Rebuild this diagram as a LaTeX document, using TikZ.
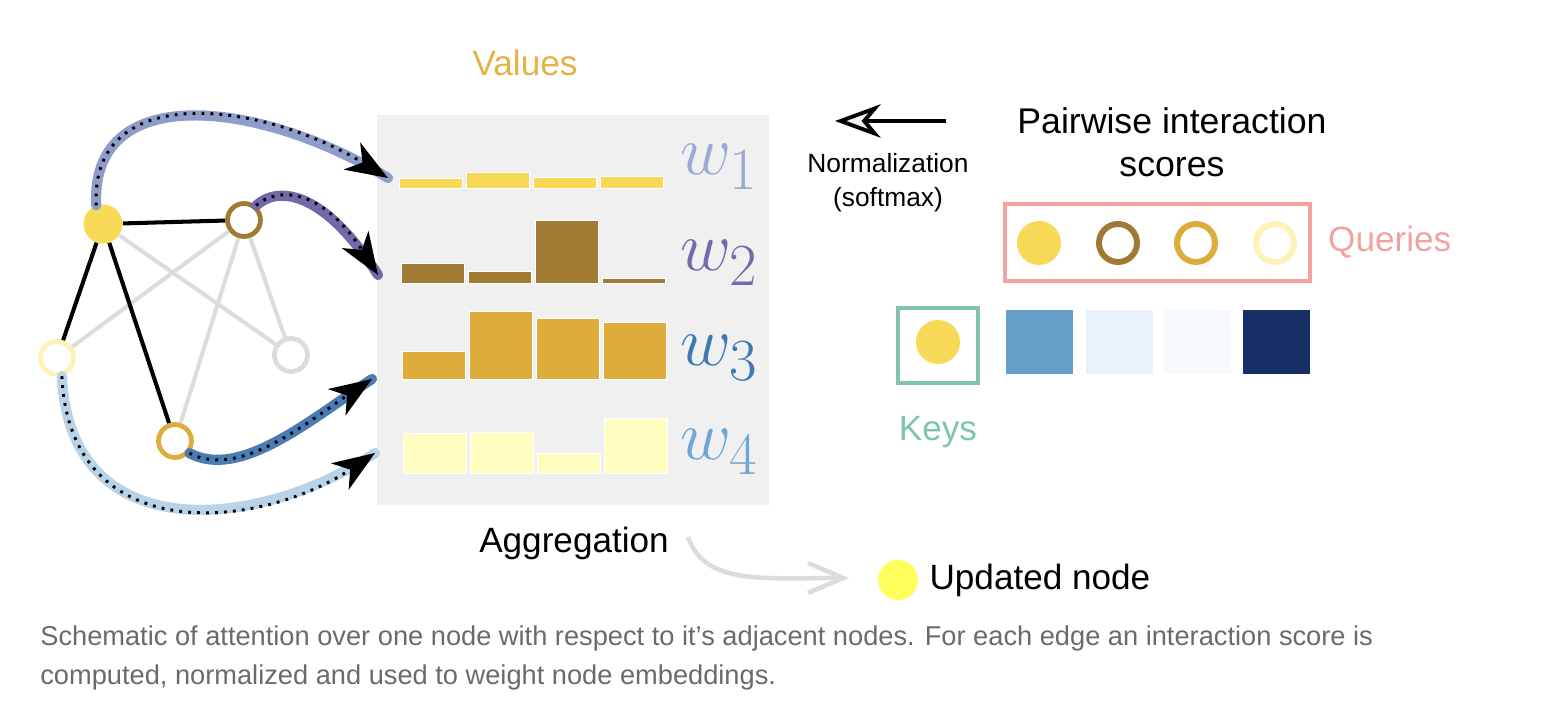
\documentclass[tikz,border=0pt]{standalone}
\usepackage{fix-cm}
\usepackage[no-math]{fontspec}
\setmainfont{Liberation Sans}
\usetikzlibrary{positioning,calc,arrows.meta}
\DeclareMathSizes{40}{40}{34}{28}

\definecolor{nodeyellow}{HTML}{F8D957}
\definecolor{nodebrown}{HTML}{A07A32}
\definecolor{nodegold}{HTML}{DDAC3B}
\definecolor{nodepale}{HTML}{FEF2B6}
\definecolor{nodegrey}{HTML}{DCDCDC}
\definecolor{barpale}{HTML}{FFFDC0}
\definecolor{boxgrey}{HTML}{F0F0F0}
\definecolor{flowA}{HTML}{8E9DC9}
\definecolor{flowB}{HTML}{7468AA}
\definecolor{flowC}{HTML}{4A7CB4}
\definecolor{flowD}{HTML}{B8D3E7}
\definecolor{labelA}{HTML}{9AAAD0}
\definecolor{labelB}{HTML}{7767AC}
\definecolor{labelC}{HTML}{3F78B5}
\definecolor{labelD}{HTML}{6FA6D4}
\definecolor{valuegold}{HTML}{E2B244}
\definecolor{querypink}{HTML}{F2A3A0}
\definecolor{keygreen}{HTML}{80C4A9}
\definecolor{scoreA}{HTML}{679FCB}
\definecolor{scoreB}{HTML}{E9F1FA}
\definecolor{scoreC}{HTML}{F6F9FE}
\definecolor{scoreD}{HTML}{162F66}
\definecolor{updyellow}{HTML}{FFFF5C}
\definecolor{captiongrey}{HTML}{6A6A6A}

\begin{document}
\begin{tikzpicture}[x=0.02cm, y=-0.02cm,
  every node/.style={font=\fontsize{20}{24}\selectfont},
  dot/.style={circle, fill=#1, inner sep=0pt, minimum size=0.78cm},
  ring/.style={circle, draw=#1, fill=white, inner sep=0pt, line width=2.7pt, minimum size=0.66cm},
  qdot/.style={dot=#1, minimum size=0.88cm},
  qring/.style={ring=#1, line width=3.4pt, minimum size=0.76cm},
  edge/.style={line width=2.3pt},
  faint/.style={line width=2.3pt, nodegrey},
  bar/.style={fill=#1, draw=white, line width=0.5pt},
  flow/.style={black, line width=1.7pt, dash pattern=on 1.6pt off 3.5pt,
    -{Stealth[length=24pt, width=18pt, inset=7pt]},
    preaction={draw=#1, line width=5.8pt, line cap=round, solid, -}},
  score/.style={fill=#1, inner sep=0pt, minimum width=1.34cm, minimum height=1.28cm},
  wlabel/.style={anchor=base west, inner sep=0pt, text=#1, font=\fontsize{40}{40}\selectfont}]
\useasboundingbox (0,0) rectangle (1556,722);

% Values panel
\node (valuebox) [fill=boxgrey, inner sep=0pt, minimum width=7.84cm, minimum height=7.8cm] at (573,310) {};
\node (values) [text=valuegold] at (525,63) {Values};

\foreach \t [count=\i] in {178,172,177,176}
  \draw[bar=nodeyellow] ({399+67*(\i-1)},188) rectangle ++(63,{\t-188});
\foreach \t [count=\i] in {263,271,220,278}
  \draw[bar=nodebrown] ({401+67*(\i-1)},283) rectangle ++(63,{\t-283});
\foreach \t [count=\i] in {351,311,318,322}
  \draw[bar=nodegold] ({402+67*(\i-1)},379) rectangle ++(63,{\t-379});
\foreach \t [count=\i] in {433,432,453,418}
  \draw[bar=barpale] ({403+67*(\i-1)},473) rectangle ++(63,{\t-473});

\node (w1) [wlabel=labelA] at (680,175) {$w_1$};
\node (w2) [wlabel=labelB] at (680,271) {$w_2$};
\node (w3) [wlabel=labelC] at (680,366) {$w_3$};
\node (w4) [wlabel=labelD] at (680,460) {$w_4$};

% Graph
\node (centre) [dot=nodeyellow] at (103,224) {};
\node (brown) [ring=nodebrown] at (244,220) {};
\node (pale) [ring=nodepale] at (57,358) {};
\node (grey) [ring=nodegrey] at (291,355) {};
\node (gold) [ring=nodegold] at (175,441) {};

\draw[faint] (centre) -- (grey);
\draw[faint] (brown) -- (pale);
\draw[faint] (brown) -- (gold);
\draw[faint] (brown) -- (grey);
\draw[edge] (centre) -- (brown);
\draw[edge] (centre) -- (pale);
\draw[edge] (centre) -- (gold);

% Messages into the values
\coordinate (in1) at (388,178);
\coordinate (in2) at (378,275);
\coordinate (in3) at (372,379);
\coordinate (in4) at (375,453);
\draw[flow=flowA] (centre.110) .. controls (90,80) and (260,100) .. (in1);
\draw[flow=flowB] (brown.50) .. controls (275,188) and (320,185) .. (in2);
\draw[flow=flowC] (gold.-40) .. controls (240,480) and (310,420) .. (in3);
\draw[flow=flowD] (pale.-75) .. controls (70,550) and (260,530) .. (in4);

% Scores
\coordinate (normtail) at (946,121);
\coordinate (normtip) at (835,121);
\draw[line width=2.6pt, -{Stealth[length=26pt, width=19pt, inset=8pt, fill=gray!10, line width=2.2pt]}] (normtail) -- (normtip);
\node (softmax) [align=center, font=\fontsize{15}{19.3}\selectfont] at (888,183) {Normalization\\(softmax)};
\node (pairwise) [align=center, font=\fontsize{20.3}{24.4}\selectfont] at (1172,142) {Pairwise interaction\\scores};

\node (qbox) [draw=querypink, line width=2.3pt, minimum width=6.1cm, minimum height=1.54cm] at (1157.5,242.5) {};
\node (q1) [qdot=nodeyellow] at (1039,243) {};
\node (q2) [qring=nodebrown] at (1118,243) {};
\node (q3) [qring=nodegold] at (1196,243) {};
\node (q4) [qring=nodepale] at (1275,243) {};
\node (queries) [right=0.2cm of qbox, text=querypink] {Queries};

\node (kbox) [draw=keygreen, line width=2.3pt, minimum width=1.6cm, minimum height=1.5cm] at (938,345.5) {};
\node (k1) [qdot=nodeyellow] at (938,342) {};
\node (keys) [below=0.5cm of kbox, text=keygreen] {Keys};
\node (s1) [score=scoreA] at (1039.5,342) {};
\node (s2) [score=scoreB] at (1119,342) {};
\node (s3) [score=scoreC] at (1197.5,342) {};
\node (s4) [score=scoreD] at (1276,342) {};

% Aggregation
\node (aggregation) at (574,543) {Aggregation};
\node (updated) [dot=updyellow, minimum size=0.8cm] at (898,580) {};
\node (updlabel) [right=1mm of updated] {Updated node};
\coordinate (aggfrom) at (688,537);
\coordinate (aggto) at (849,578);
\draw[line width=2.6pt, nodegrey, -{Straight Barb[length=20pt, width=17pt]}] (aggfrom) .. controls (705,585) and (760,578) .. (aggto);

% Caption
\node (caption) [anchor=north west, align=left, inner sep=0pt, text=captiongrey, font=\fontsize{15.5}{22.2}\selectfont] at (40,625) {Schematic of attention over one node with respect to it’s adjacent nodes. For each edge an interaction score is\\computed, normalized and used to weight node embeddings.};
\end{tikzpicture}
\end{document}
